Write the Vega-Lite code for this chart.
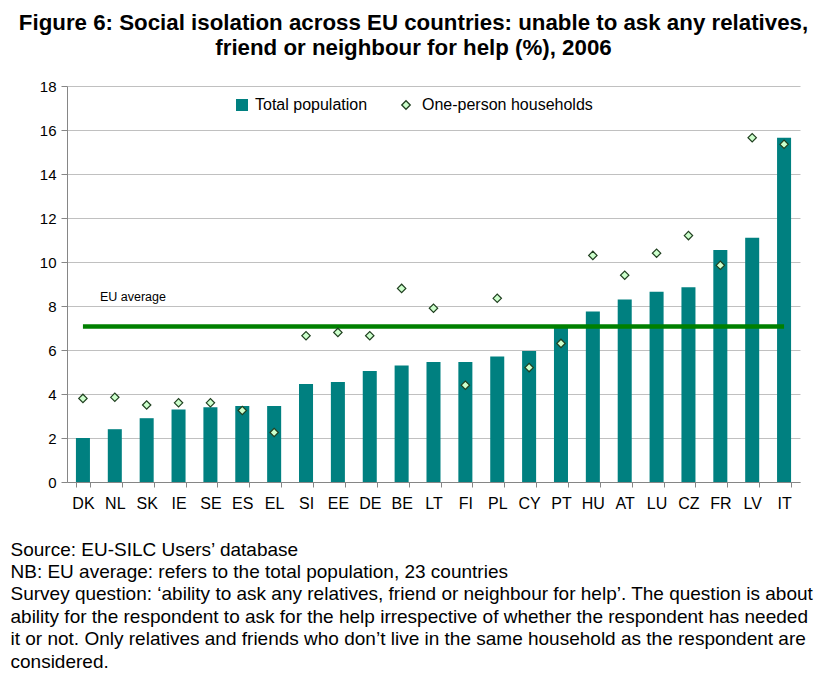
{
  "$schema": "https://vega.github.io/schema/vega-lite/v6.json",
  "width": 733,
  "height": 396,
  "autosize": {"type": "none"},
  "padding": {"left": 67, "top": 86, "right": 25, "bottom": 191},
  "background": "white",
  "config": {"view": {"stroke": null}},
  "title": {
    "text": ["Figure 6: Social isolation across EU countries: unable to ask any relatives,", "friend or neighbour for help (%), 2006"],
    "font": "'Liberation Sans Narrow', 'Arial Narrow', 'Liberation Sans', sans-serif",
    "fontSize": 22.3,
    "fontWeight": "bold",
    "color": "black",
    "anchor": "middle",
    "dx": -20,
    "offset": 20,
    "lineHeight": 25
  },
  "data": {
    "values": [
      {"country": "DK", "series": "Total population", "value": 2.0},
      {"country": "NL", "series": "Total population", "value": 2.4},
      {"country": "SK", "series": "Total population", "value": 2.9},
      {"country": "IE", "series": "Total population", "value": 3.3},
      {"country": "SE", "series": "Total population", "value": 3.4},
      {"country": "ES", "series": "Total population", "value": 3.45},
      {"country": "EL", "series": "Total population", "value": 3.45},
      {"country": "SI", "series": "Total population", "value": 4.45},
      {"country": "EE", "series": "Total population", "value": 4.55},
      {"country": "DE", "series": "Total population", "value": 5.05},
      {"country": "BE", "series": "Total population", "value": 5.3},
      {"country": "LT", "series": "Total population", "value": 5.45},
      {"country": "FI", "series": "Total population", "value": 5.45},
      {"country": "PL", "series": "Total population", "value": 5.7},
      {"country": "CY", "series": "Total population", "value": 5.95},
      {"country": "PT", "series": "Total population", "value": 7.1},
      {"country": "HU", "series": "Total population", "value": 7.75},
      {"country": "AT", "series": "Total population", "value": 8.3},
      {"country": "LU", "series": "Total population", "value": 8.65},
      {"country": "CZ", "series": "Total population", "value": 8.85},
      {"country": "FR", "series": "Total population", "value": 10.55},
      {"country": "LV", "series": "Total population", "value": 11.1},
      {"country": "IT", "series": "Total population", "value": 15.65},
      {"country": "DK", "series": "One-person households", "value": 3.8},
      {"country": "NL", "series": "One-person households", "value": 3.85},
      {"country": "SK", "series": "One-person households", "value": 3.5},
      {"country": "IE", "series": "One-person households", "value": 3.6},
      {"country": "SE", "series": "One-person households", "value": 3.6},
      {"country": "ES", "series": "One-person households", "value": 3.25},
      {"country": "EL", "series": "One-person households", "value": 2.25},
      {"country": "SI", "series": "One-person households", "value": 6.65},
      {"country": "EE", "series": "One-person households", "value": 6.8},
      {"country": "DE", "series": "One-person households", "value": 6.65},
      {"country": "BE", "series": "One-person households", "value": 8.8},
      {"country": "LT", "series": "One-person households", "value": 7.9},
      {"country": "FI", "series": "One-person households", "value": 4.4},
      {"country": "PL", "series": "One-person households", "value": 8.35},
      {"country": "CY", "series": "One-person households", "value": 5.2},
      {"country": "PT", "series": "One-person households", "value": 6.3},
      {"country": "HU", "series": "One-person households", "value": 10.3},
      {"country": "AT", "series": "One-person households", "value": 9.4},
      {"country": "LU", "series": "One-person households", "value": 10.4},
      {"country": "CZ", "series": "One-person households", "value": 11.2},
      {"country": "FR", "series": "One-person households", "value": 9.85},
      {"country": "LV", "series": "One-person households", "value": 15.65},
      {"country": "IT", "series": "One-person households", "value": 15.35}
    ]
  },
  "encoding": {
    "x": {
      "field": "country",
      "type": "nominal",
      "sort": null,
      "scale": {"paddingInner": 0.56, "paddingOuter": 0.28},
      "axis": {
        "labelAngle": 0,
        "labelFont": "Liberation Sans",
        "labelFontSize": 16,
        "labelColor": "black",
        "labelPadding": 8,
        "tickBand": "extent",
        "tickSize": 5,
        "tickColor": "#868686",
        "domainColor": "#868686",
        "grid": false,
        "title": [
          "Source: EU-SILC Users’ database",
          "NB: EU average: refers to the total population, 23 countries",
          "Survey question: ‘ability to ask any relatives, friend or neighbour for help’. The question is about",
          "ability for the respondent to ask for the help irrespective of whether the respondent has needed",
          "it or not. Only relatives and friends who don’t live in the same household as the respondent are",
          "considered."
        ],
        "titleFont": "'Liberation Sans Narrow', 'Arial Narrow', 'Liberation Sans', sans-serif",
        "titleFontSize": 19,
        "titleFontWeight": "normal",
        "titleColor": "black",
        "titleAnchor": "start",
        "titleAlign": "left",
        "titleBaseline": "top",
        "titleX": -57,
        "titleY": 58,
        "titleLineHeight": 22.4,
        "titleLimit": 900
      }
    }
  },
  "layer": [
    {
      "transform": [{"filter": "datum.series === 'Total population'"}],
      "mark": {"type": "bar"},
      "encoding": {
        "y": {
          "field": "value",
          "type": "quantitative",
          "scale": {"domain": [0, 18], "nice": false},
          "axis": {
            "title": null,
            "values": [0, 2, 4, 6, 8, 10, 12, 14, 16, 18],
            "grid": true,
            "gridColor": "#c0c0c0",
            "tickSize": 6,
            "tickColor": "#868686",
            "domainColor": "#868686",
            "labelFont": "Liberation Sans",
            "labelFontSize": 15,
            "labelColor": "black",
            "labelPadding": 5
          }
        },
        "color": {
          "field": "series",
          "type": "nominal",
          "scale": {"domain": ["Total population"], "range": ["#008080"]},
          "legend": {
            "orient": "none",
            "legendX": 167,
            "legendY": 11,
            "padding": 0,
            "title": null,
            "symbolType": "square",
            "symbolSize": 144,
            "symbolStrokeWidth": 0,
            "labelOffset": 5,
            "labelLimit": 300,
            "labelFont": "Liberation Sans",
            "labelFontSize": 16,
            "labelColor": "black"
          }
        }
      }
    },
    {
      "transform": [{"filter": "datum.series === 'Total population'"}],
      "mark": {"type": "line", "color": "#008000", "strokeWidth": 4.5, "strokeCap": "butt"},
      "encoding": {
        "y": {"datum": 7.07, "type": "quantitative"}
      }
    },
    {
      "transform": [{"filter": "datum.series === 'One-person households'"}],
      "mark": {"type": "point", "filled": true, "strokeWidth": 1.2, "size": 70, "opacity": 1},
      "encoding": {
        "y": {"field": "value", "type": "quantitative"},
        "fill": {
          "field": "series",
          "type": "nominal",
          "scale": {"domain": ["One-person households"], "range": ["#ccffcc"]},
          "legend": null
        },
        "stroke": {
          "field": "series",
          "type": "nominal",
          "scale": {"domain": ["One-person households"], "range": ["#1f3f1f"]},
          "legend": null
        },
        "shape": {
          "field": "series",
          "type": "nominal",
          "scale": {"domain": ["One-person households"], "range": ["diamond"]},
          "legend": {
            "orient": "none",
            "legendX": 331,
            "legendY": 11,
            "padding": 0,
            "title": null,
            "symbolSize": 72,
            "symbolStrokeWidth": 1.3,
            "labelOffset": 8,
            "labelLimit": 300,
            "labelFont": "Liberation Sans",
            "labelFontSize": 16,
            "labelColor": "black",
            "encode": {
              "symbols": {
                "update": {
                  "fill": {"value": "#ccffcc"},
                  "stroke": {"value": "#1f3f1f"},
                  "strokeWidth": {"value": 1.3},
                  "opacity": {"value": 1}
                }
              }
            }
          }
        }
      }
    },
    {
      "transform": [{"filter": "datum.series === 'Total population' && datum.country === 'DK'"}],
      "mark": {"type": "text", "text": "EU average", "align": "left", "baseline": "middle", "dx": 17, "font": "Liberation Sans", "fontSize": 12.5, "color": "black"},
      "encoding": {
        "y": {"datum": 8.4, "type": "quantitative"}
      }
    }
  ]
}
